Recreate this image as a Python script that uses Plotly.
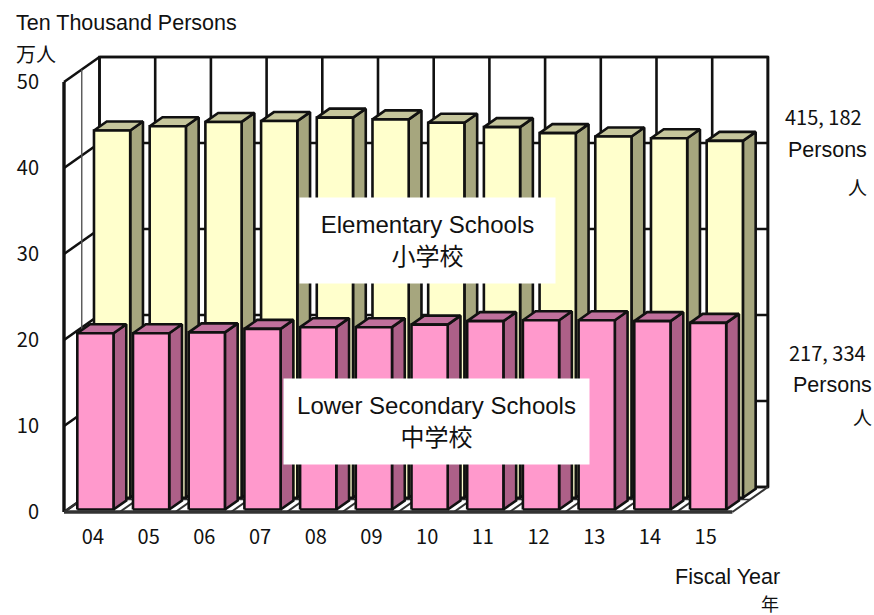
import plotly.graph_objects as go

years = ["04", "05", "06", "07", "08", "09", "10", "11", "12", "13", "14", "15"]
elementary = [42.7, 43.2, 43.7, 43.8, 44.2, 44.0, 43.6, 43.1, 42.4, 42.0, 41.8, 41.5]
lower_secondary = [20.5, 20.5, 20.6, 21.0, 21.2, 21.2, 21.5, 21.9, 22.0, 22.0, 21.9, 21.7]
y_ticks = [0, 10, 20, 30, 40, 50]

W, H = 874, 615
PX_X = 55.7   # px per category
PX_Y = 8.6    # px per value unit
DEPTH_X = 35.5 / PX_X
DEPTH_Y = 25 / PX_Y
BAR_W = 0.65
BAR_D = 0.36
N = len(years)
BLACK = "#111111"
ML, MR, MT, MB = 58, 100, 50, 97
PAD_L, PAD_B = 6, 6   # px of axis range kept beyond the front edges so their strokes are not clipped


def P(x, y, d):
    return x + d * DEPTH_X, y + d * DEPTH_Y


def poly(points):
    xs, ys = zip(*[P(*p) for p in points])
    return list(xs) + [xs[0], None], list(ys) + [ys[0], None]


def add_faces(fig, faces, fill, width=2.6):
    xs, ys = [], []
    for f in faces:
        a, b = poly(f)
        xs += a
        ys += b
    fig.add_trace(go.Scatter(x=xs, y=ys, mode="lines", fill="toself", fillcolor=fill,
                             line=dict(color=BLACK, width=width), hoverinfo="skip",
                             showlegend=False))


def add_lines(fig, segs, color=BLACK, width=2.4):
    xs, ys = [], []
    for a, b in segs:
        xa, ya = P(*a)
        xb, yb = P(*b)
        xs += [xa, xb, None]
        ys += [ya, yb, None]
    fig.add_trace(go.Scatter(x=xs, y=ys, mode="lines", line=dict(color=color, width=width),
                             hoverinfo="skip", showlegend=False))


def add_series(fig, values, d0, front, side, top):
    d1 = d0 + BAR_D
    a = (1 - BAR_W) / 2
    add_faces(fig, [[(k + a + BAR_W, 0, d0), (k + a + BAR_W, 0, d1), (k + a + BAR_W, v, d1), (k + a + BAR_W, v, d0)]
                    for k, v in enumerate(values)], side)
    add_faces(fig, [[(k + a, v, d0), (k + a + BAR_W, v, d0), (k + a + BAR_W, v, d1), (k + a, v, d1)]
                    for k, v in enumerate(values)], top)
    add_faces(fig, [[(k + a, 0, d0), (k + a + BAR_W, 0, d0), (k + a + BAR_W, v, d0), (k + a, v, d0)]
                    for k, v in enumerate(values)], front)


fig = go.Figure()

# walls and floor
add_faces(fig, [[(0, 0, 1), (N, 0, 1), (N, 50, 1), (0, 50, 1)]], "#ffffff", 2.6)
add_lines(fig, [((0, t, 0), (0, t, 1)) for t in y_ticks], BLACK, 2.6)
add_lines(fig, [((0, t, 1), (N, t, 1)) for t in y_ticks], BLACK, 2.6)
add_lines(fig, [((k, 0, 1), (k, 50, 1)) for k in range(N + 1)], BLACK, 2.6)
add_lines(fig, [((0, 0, 0.5), (0, 50, 0.5))], "#555555", 1.4)
add_lines(fig, [((k, 0, 0), (k, 0, 1)) for k in range(N + 1)], "#333333", 2.0)
add_lines(fig, [((0, 0, 0.5), (N, 0, 0.5))], "#333333", 1.6)

add_series(fig, elementary, 0.57, "#FFFFCC", "#A6A67E", "#C6C69C")
add_series(fig, lower_secondary, 0.10, "#FF99CC", "#AD6088", "#C0709C")

# front axis edges
add_lines(fig, [((0, 0, 0), (0, 50, 0))], BLACK, 3.4)
add_lines(fig, [((0, 0, 0), (N, 0, 0))], "#333333", 3.4)

ann_font = "Liberation Sans, Noto Sans CJK JP"
CJK = "Noto Sans CJK JP"


def px(xp):
    return (xp - ML) / (W - ML - MR)


def py(yp):
    return 1 - (yp - MT) / (H - MT - MB)


def text(t, x, y, xanchor="left", font=ann_font, size=21.5, **kw):
    fig.add_annotation(text=t, x=px(x), y=py(y), xref="paper", yref="paper", xanchor=xanchor,
                       yanchor="middle", showarrow=False, font=dict(family=font, size=size, color="#111111"),
                       **kw)


text("Ten Thousand Persons", 14, 23)
text("万人", 14, 54, font=CJK, size=20)
text("415, 182", 783, 117, font=CJK, size=20)
text("Persons", 869, 150, "right")
text("人", 869, 186, "right", font=CJK, size=19)
text("217, 334", 787, 352, font=CJK, size=20)
text("Persons", 874, 385, "right")
text("人", 874, 416, "right", font=CJK, size=19)
text("Fiscal Year", 782, 577, "right")
text("年", 781, 603, "right", font=CJK, size=18)

fig.add_annotation(text="Elementary Schools<br>小学校", x=px(427.5), y=py(240.5), xref="paper", yref="paper",
                   xanchor="center", yanchor="middle", showarrow=False, width=253, height=83,
                   bgcolor="#ffffff", font=dict(family=ann_font, size=24, color="#111111"))
fig.add_annotation(text="Lower Secondary Schools<br>中学校", x=px(436.5), y=py(421.5), xref="paper", yref="paper",
                   xanchor="center", yanchor="middle", showarrow=False, width=303, height=83,
                   bgcolor="#ffffff", font=dict(family=ann_font, size=24, color="#111111"))

fig.update_layout(
    width=W, height=H, autosize=False, paper_bgcolor="#ffffff", plot_bgcolor="#ffffff",
    margin=dict(l=ML, r=MR, t=MT, b=MB), showlegend=False,
    xaxis=dict(range=[-PAD_L / PX_X, (W - ML - MR - PAD_L) / PX_X], tickvals=[k + 0.52 for k in range(N)],
               ticktext=years, showgrid=False, zeroline=False, showline=False, ticks="", ticklabelstandoff=5,
               tickfont=dict(family=CJK, size=20, color="#111111")),
    yaxis=dict(range=[-PAD_B / PX_Y, (H - MT - MB - PAD_B) / PX_Y], tickvals=y_ticks, showgrid=False,
               zeroline=False, showline=False, ticks="", ticklabelstandoff=18,
               tickfont=dict(family=CJK, size=20, color="#111111")),
)

fig.write_html("out.html", config={"displayModeBar": False},
               post_script="document.body.style.margin='0';document.body.style.overflow='hidden';")
